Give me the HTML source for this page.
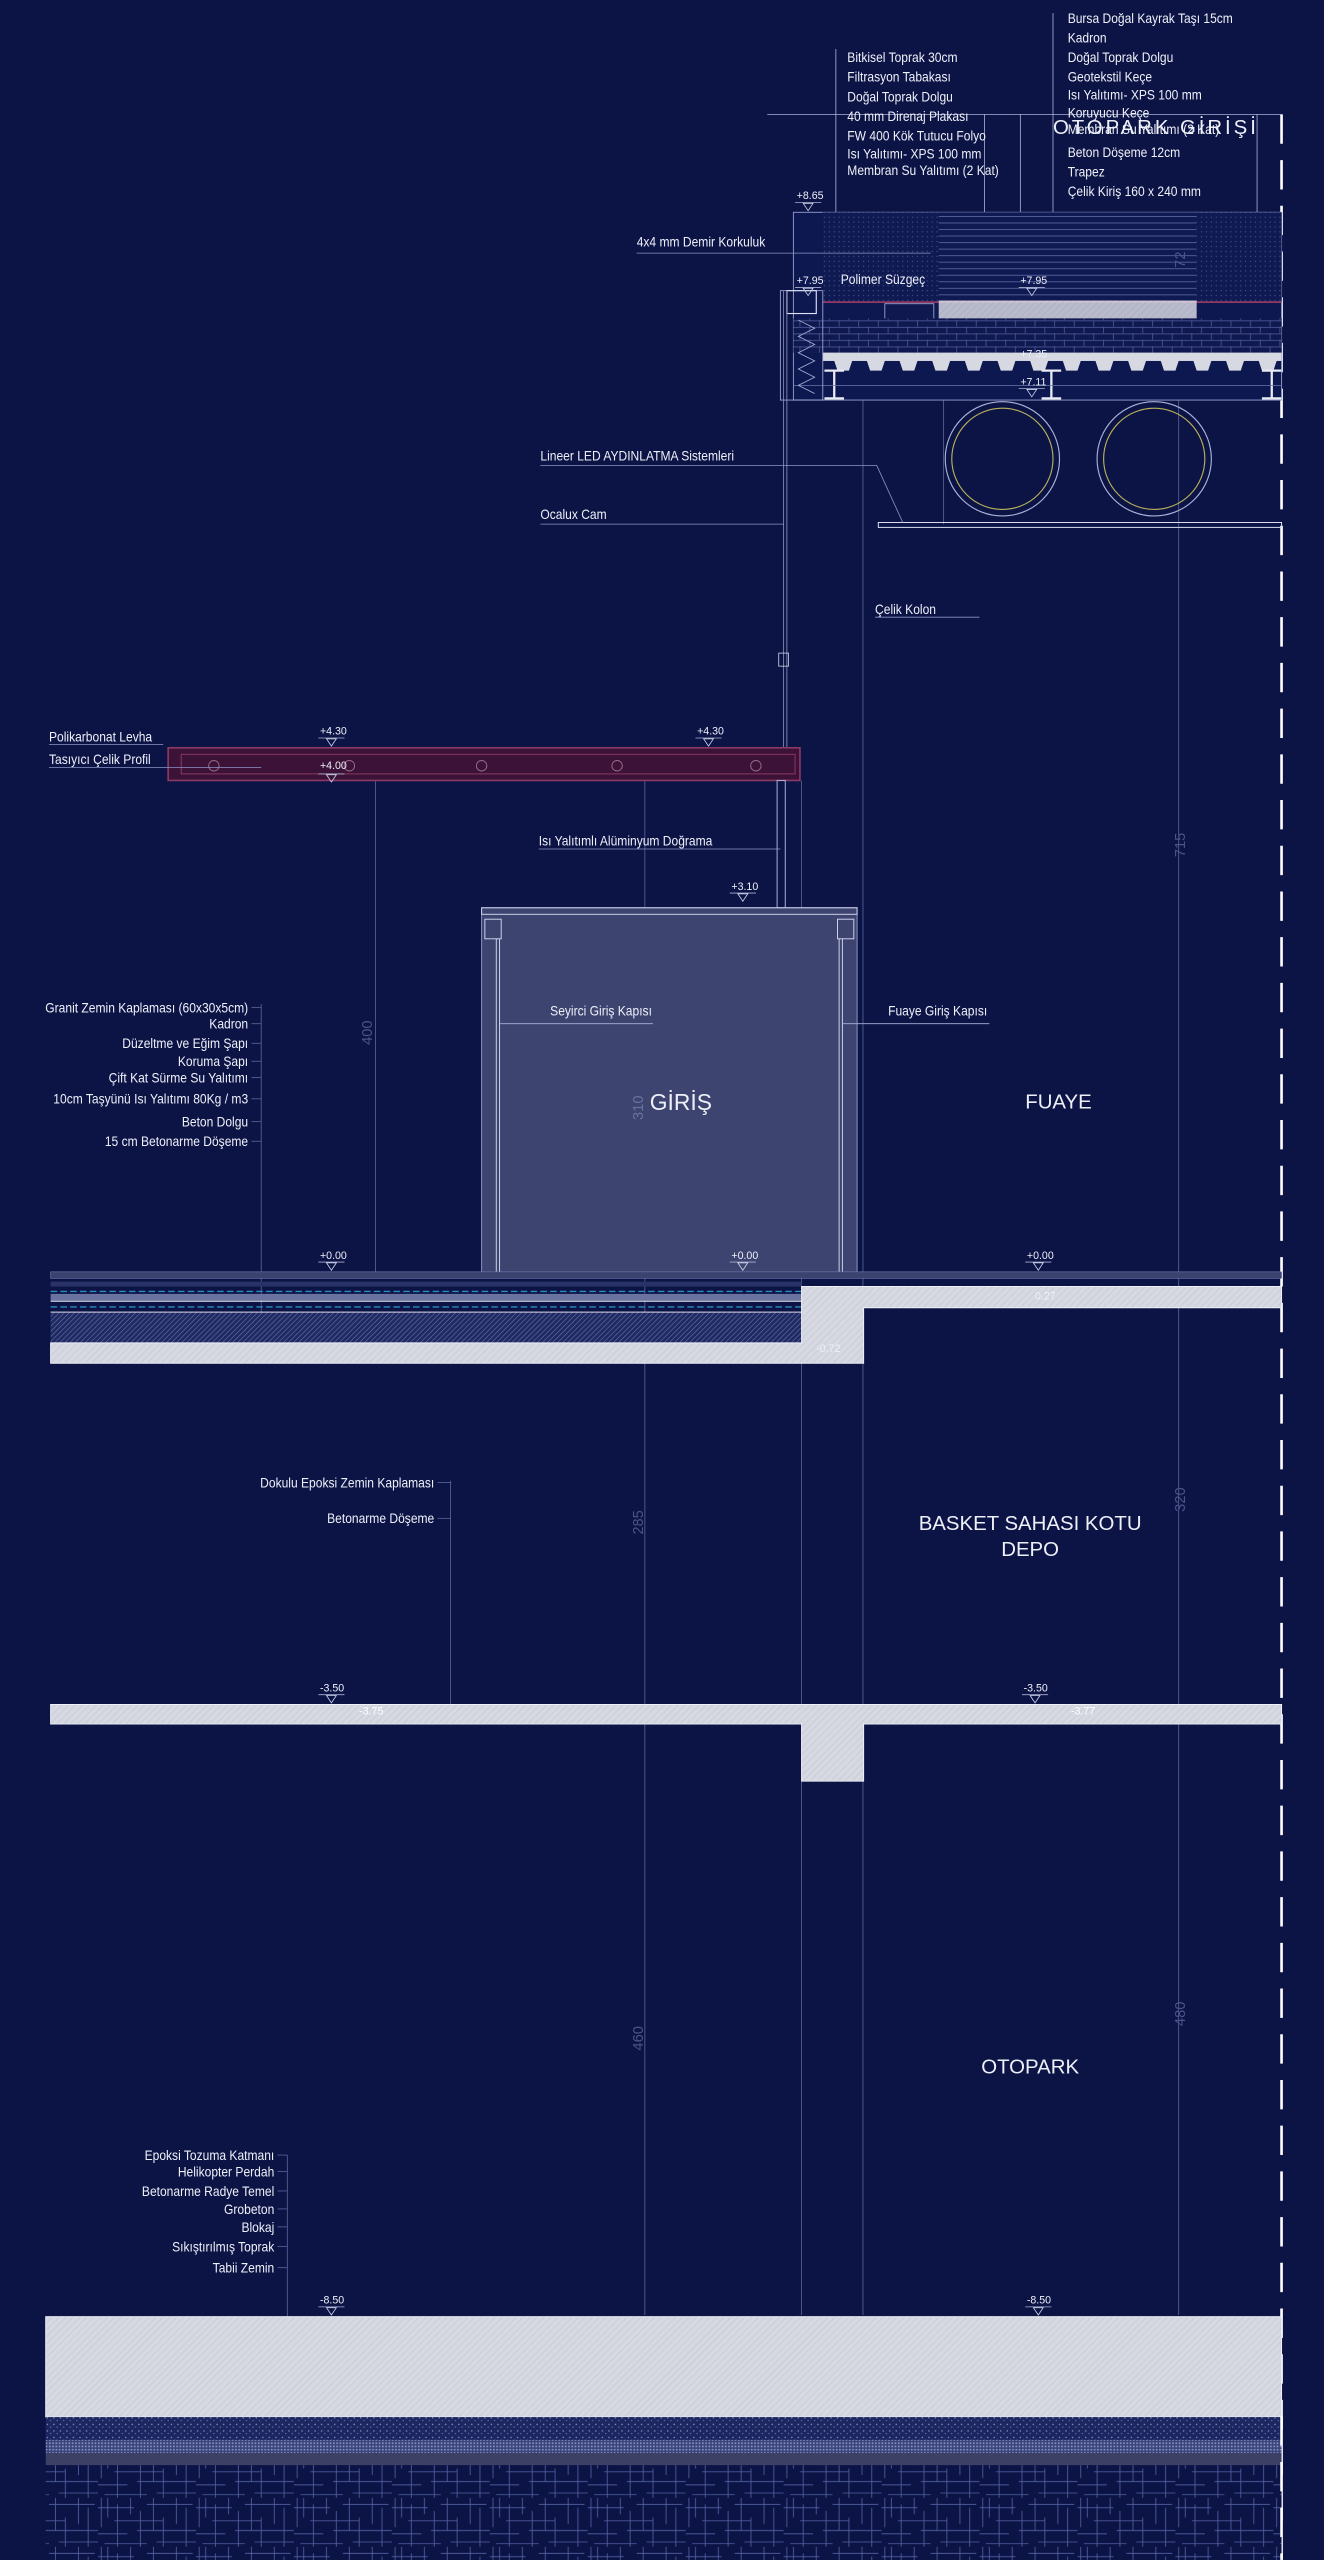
<!DOCTYPE html>
<html><head><meta charset="utf-8"><style>
html,body{margin:0;padding:0;background:#0c1446;}
svg{display:block}
text{font-family:"Liberation Sans Narrow","Liberation Sans",sans-serif;fill:#eef0f8;}
</style></head><body>
<svg width="1324" height="2560" viewBox="0 0 811 1568" xmlns="http://www.w3.org/2000/svg">
<defs>
<pattern id="hatch" width="3" height="3" patternUnits="userSpaceOnUse" patternTransform="rotate(45)"><rect width="3" height="3" fill="#d6d8e2"/><line x1="0" y1="0" x2="0" y2="3" stroke="#c4c7d4" stroke-width="0.8"/></pattern>
<pattern id="dhatch" width="2.2" height="2.2" patternUnits="userSpaceOnUse" patternTransform="rotate(45)"><rect width="2.2" height="2.2" fill="#1f2a63"/><line x1="0" y1="0" x2="0" y2="2.2" stroke="#6a74a8" stroke-width="0.7"/></pattern>
<pattern id="dots" width="3" height="3" patternUnits="userSpaceOnUse"><rect width="3" height="3" fill="#101a52"/><circle cx="1" cy="1" r="0.35" fill="#5d68a0"/></pattern>
<pattern id="speck" width="4" height="4" patternUnits="userSpaceOnUse"><rect width="4" height="4" fill="#1c2660"/><circle cx="1" cy="1" r="0.5" fill="#7d86b6"/><circle cx="3" cy="2.6" r="0.45" fill="#5e68a0"/></pattern>
<pattern id="xh" width="2" height="2" patternUnits="userSpaceOnUse"><rect width="2" height="2" fill="#3a447c"/><rect width="1" height="1" fill="#8c94c0"/></pattern>
<pattern id="hlines" width="10" height="4" patternUnits="userSpaceOnUse"><rect width="10" height="4" fill="#101a52"/><line x1="0" y1="0.5" x2="10" y2="0.5" stroke="#5c68a4" stroke-width="0.5"/></pattern>
<pattern id="brick" width="24" height="8" patternUnits="userSpaceOnUse"><rect width="24" height="8" fill="#0f1950"/><path d="M0 0.5H24M0 4.5H24M4 0V4M16 0V4M10 4V8M22 4V8" stroke="#4c5896" stroke-width="0.5" fill="none"/></pattern>
<pattern id="ground" width="60" height="30" patternUnits="userSpaceOnUse"><rect width="60" height="30" fill="#0c1446"/><path d="M2 0V18M6 0V12M12 4V30M20 0V10M26 8V30M34 0V20M40 12V30M48 0V16M54 6V30M0 6H22M10 14H40M30 4H58M0 22H18M24 20H60M36 27H60M4 28H30" stroke="#5361a3" stroke-width="0.5" fill="none"/></pattern>
<g id="lv"><line x1="-8" y1="0" x2="8" y2="0" stroke="#aab0d0" stroke-width="0.5"/><path d="M-3 0.5 L3 0.5 L0 5 Z" fill="none" stroke="#cfd3ea" stroke-width="0.5"/></g>
</defs>
<rect width="811" height="1568" fill="#0c1446"/>

<g stroke="#5a6596" stroke-width="0.5" fill="none">
<line x1="395" y1="478" x2="395" y2="1418"/>
<line x1="491" y1="478" x2="491" y2="1418"/>
<line x1="528.6" y1="243" x2="528.6" y2="1418"/>
<line x1="722" y1="130" x2="722" y2="1418"/>
<line x1="230" y1="478" x2="230" y2="780"/>
<line x1="578" y1="243" x2="578" y2="321"/>
<line x1="160" y1="615" x2="160" y2="834"/>
<line x1="276" y1="907" x2="276" y2="1044"/>
<line x1="176" y1="1320" x2="176" y2="1568"/>
</g>

<line x1="785" y1="70" x2="785" y2="1568" stroke="#fff" stroke-width="1.6" stroke-dasharray="18 10"/>

<g stroke="#aab2d8" stroke-width="0.5" fill="none">
<line x1="470" y1="70" x2="785" y2="70"/>
<line x1="603" y1="70" x2="603" y2="130"/>
<line x1="625" y1="70" x2="625" y2="130"/>
<line x1="770" y1="70" x2="770" y2="130"/>
<line x1="512" y1="30" x2="512" y2="130"/>
<line x1="645" y1="8" x2="645" y2="130"/>
</g>
<rect x="486" y="130" width="299" height="115" fill="#0e1850" stroke="#8c95c4" stroke-width="0.6"/>
<rect x="504" y="130" width="71" height="55" fill="url(#dots)"/>
<rect x="733" y="130" width="52" height="55" fill="url(#dots)"/>
<rect x="575" y="130" width="158" height="55" fill="url(#hlines)"/>
<line x1="504" y1="185" x2="785" y2="185" stroke="#c8446c" stroke-width="0.8"/>
<rect x="575" y="184" width="158" height="11" fill="url(#hatch)" opacity="0.85"/>
<rect x="542" y="186" width="30" height="10" fill="#0f1950" stroke="#aab2d8" stroke-width="0.5"/>
<rect x="486" y="195" width="299" height="21" fill="url(#brick)"/>
<rect x="504" y="216" width="281" height="5" fill="#d6d8e2"/>
<path d="M504 221 L511 221 L513 227 L520 227 L522 221 L531 221 L533 227 L540 227 L542 221 L551 221 L553 227 L560 227 L562 221 L571 221 L573 227 L580 227 L582 221 L591 221 L593 227 L600 227 L602 221 L611 221 L613 227 L620 227 L622 221 L631 221 L633 227 L640 227 L642 221 L651 221 L653 227 L660 227 L662 221 L671 221 L673 227 L680 227 L682 221 L691 221 L693 227 L700 227 L702 221 L711 221 L713 227 L720 227 L722 221 L731 221 L733 227 L740 227 L742 221 L751 221 L753 227 L760 227 L762 221 L771 221 L773 227 L780 227 L782 221 L785 221 L785 216 L504 216 Z" fill="#d6d8e2"/>
<g fill="none" stroke="#e8eaf4" stroke-width="1.4">
<path d="M505 227H517M511 227V244M505 244H517"/>
<path d="M638 227H650M644 227V244M638 244H650"/>
<path d="M773 227H785M779 227V244M773 244H785"/>
</g>
<line x1="486" y1="236" x2="785" y2="236" stroke="#6a75aa" stroke-width="0.5"/>
<rect x="478" y="178" width="26" height="67" fill="none" stroke="#aab2d8" stroke-width="0.5"/>
<path d="M489 196 l10 5 l-10 5 l10 5 l-10 5 l10 5 l-10 5 l10 5 l-10 5 l10 5" fill="none" stroke="#aab2d8" stroke-width="0.5"/>
<rect x="482" y="178" width="18" height="14" fill="none" stroke="#dfe2f2" stroke-width="0.7"/>
<circle cx="614" cy="281" r="35" fill="none" stroke="#aab2d8" stroke-width="0.7"/>
<circle cx="614" cy="281" r="31" fill="none" stroke="#b8b25a" stroke-width="0.7"/>
<circle cx="707" cy="281" r="35" fill="none" stroke="#aab2d8" stroke-width="0.7"/>
<circle cx="707" cy="281" r="31" fill="none" stroke="#b8b25a" stroke-width="0.7"/>
<rect x="538" y="320" width="247" height="3" fill="none" stroke="#dfe2f2" stroke-width="0.6"/>
<g stroke="#8c95c4" stroke-width="0.5" fill="none">
<line x1="331" y1="285" x2="537" y2="285"/><line x1="537" y1="285" x2="553" y2="320"/>
<line x1="331" y1="321" x2="480" y2="321"/>
<line x1="390" y1="155" x2="570" y2="155"/>
<line x1="536" y1="378" x2="600" y2="378"/>
<line x1="480" y1="178" x2="480" y2="458"/><line x1="482" y1="178" x2="482" y2="458"/>
<line x1="330" y1="520" x2="478" y2="520"/>
</g>
<rect x="477" y="400" width="6" height="8" fill="none" stroke="#cfd3ea" stroke-width="0.5"/>

<g font-size="8.3">
<g transform="translate(519,0) scale(0.89,1)">
<text x="0" y="38">Bitkisel Toprak 30cm</text>
<text x="0" y="50">Filtrasyon Tabakası</text>
<text x="0" y="62">Doğal Toprak Dolgu</text>
<text x="0" y="74">40 mm Direnaj Plakası</text>
<text x="0" y="86">FW 400 Kök Tutucu Folyo</text>
<text x="0" y="97">Isı Yalıtımı- XPS 100 mm</text>
<text x="0" y="107">Membran Su Yalıtımı (2 Kat)</text>
</g>
<g transform="translate(654,0) scale(0.89,1)">
<text x="0" y="14">Bursa Doğal Kayrak Taşı 15cm</text>
<text x="0" y="26">Kadron</text>
<text x="0" y="38">Doğal Toprak Dolgu</text>
<text x="0" y="50">Geotekstil Keçe</text>
<text x="0" y="61">Isı Yalıtımı- XPS 100 mm</text>
<text x="0" y="72">Koruyucu Keçe</text>
<text x="0" y="82">Membran Su Yalıtımı (2 Kat)</text>
<text x="0" y="96">Beton Döşeme  12cm</text>
<text x="0" y="108">Trapez</text>
<text x="0" y="120">Çelik Kiriş 160 x 240 mm</text>
</g>
<text transform="translate(390,151) scale(0.89,1)">4x4 mm Demir Korkuluk</text>
<text transform="translate(515,174) scale(0.89,1)">Polimer Süzgeç</text>
<text transform="translate(331,282) scale(0.89,1)">Lineer LED AYDINLATMA Sistemleri</text>
<text transform="translate(331,318) scale(0.89,1)">Ocalux Cam</text>
<text transform="translate(536,376) scale(0.89,1)">Çelik Kolon</text>
</g>
<text x="645" y="82" font-size="12.5" letter-spacing="1.8" style="font-family:'Liberation Sans',sans-serif">OTOPARK GİRİŞİ</text>

<g font-size="6.5">
<use href="#lv" x="495" y="124"/><text x="488" y="122">+8.65</text>
<use href="#lv" x="495" y="176"/><text x="488" y="174">+7.95</text>
<use href="#lv" x="632" y="176"/><text x="625" y="174">+7.95</text>
<text x="625" y="219">+7.35</text>
<use href="#lv" x="632" y="238"/><text x="625" y="236">+7.11</text>
</g>

<rect x="103" y="458" width="387" height="20" fill="#3c1238" stroke="#8a3a62" stroke-width="1"/>
<rect x="111" y="462" width="376" height="12" fill="none" stroke="#8a3a62" stroke-width="0.6"/>
<g fill="none" stroke="#9a6a88" stroke-width="0.6">
<circle cx="131" cy="469" r="3.2"/><circle cx="214" cy="469" r="3.2"/><circle cx="295" cy="469" r="3.2"/><circle cx="378" cy="469" r="3.2"/><circle cx="463" cy="469" r="3.2"/>
</g>
<rect x="476" y="478" width="5" height="78" fill="none" stroke="#aab2d8" stroke-width="0.6"/>
<g stroke="#8c95c4" stroke-width="0.5"><line x1="30" y1="456" x2="100" y2="456"/><line x1="30" y1="470" x2="160" y2="470"/></g>
<g font-size="8.3">
<text transform="translate(30,454) scale(0.89,1)">Polikarbonat Levha</text>
<text transform="translate(30,468) scale(0.89,1)">Tasıyıcı Çelik Profil</text>
<text transform="translate(330,518) scale(0.89,1)">Isı Yalıtımlı Alüminyum Doğrama</text>
</g>
<g font-size="6.5">
<use href="#lv" x="203" y="452"/><text x="196" y="450">+4.30</text>
<use href="#lv" x="434" y="452"/><text x="427" y="450">+4.30</text>
<use href="#lv" x="203" y="474" /><text x="196" y="471">+4.00</text>
<use href="#lv" x="455" y="547"/><text x="448" y="545">+3.10</text>
</g>

<rect x="295" y="556" width="230" height="224" fill="#3d4470" stroke="#8c95c4" stroke-width="0.6"/>
<rect x="295" y="556" width="230" height="4" fill="none" stroke="#cfd3ea" stroke-width="0.6"/>
<g stroke="#cfd3ea" stroke-width="0.6" fill="none">
<rect x="297" y="563" width="10" height="12"/><rect x="513" y="563" width="10" height="12"/>
<line x1="304" y1="575" x2="304" y2="780"/><line x1="306" y1="575" x2="306" y2="780"/>
<line x1="514" y1="575" x2="514" y2="780"/><line x1="516" y1="575" x2="516" y2="780"/>
</g>
<g stroke="#aab2d8" stroke-width="0.5"><line x1="306" y1="627" x2="400" y2="627"/><line x1="516" y1="627" x2="606" y2="627"/></g>
<g font-size="8.3">
<text transform="translate(337,622) scale(0.89,1)">Seyirci Giriş Kapısı</text>
<text transform="translate(544,622) scale(0.89,1)">Fuaye Giriş Kapısı</text>
</g>
<text x="398" y="680" font-size="14" style="font-family:'Liberation Sans',sans-serif">GİRİŞ</text>
<text x="628" y="679" font-size="12.5" style="font-family:'Liberation Sans',sans-serif">FUAYE</text>
<g font-size="9" style="font-family:'Liberation Sans',sans-serif">
<text transform="translate(394,686) rotate(-90)" style="fill:#6a72a0">310</text>
<text transform="translate(228,640) rotate(-90)" style="fill:#4a5488">400</text>
<text transform="translate(726,525) rotate(-90)" style="fill:#4a5488">715</text>
<text transform="translate(726,926) rotate(-90)" style="fill:#4a5488">320</text>
<text transform="translate(394,940) rotate(-90)" style="fill:#4a5488">285</text>
<text transform="translate(394,1256) rotate(-90)" style="fill:#4a5488">460</text>
<text transform="translate(726,1241) rotate(-90)" style="fill:#4a5488">480</text>
<text transform="translate(726,164) rotate(-90)" style="fill:#4a5488">72</text>
</g>

<g font-size="8.3" text-anchor="end" transform="translate(152,0) scale(0.89,1)">
<text x="0" y="620">Granit Zemin Kaplaması (60x30x5cm)</text>
<text x="0" y="630">Kadron</text>
<text x="0" y="642">Düzeltme ve Eğim Şapı</text>
<text x="0" y="653">Koruma Şapı</text>
<text x="0" y="663">Çift Kat Sürme Su Yalıtımı</text>
<text x="0" y="676">10cm Taşyünü Isı Yalıtımı 80Kg / m3</text>
<text x="0" y="690">Beton Dolgu</text>
<text x="0" y="702">15 cm Betonarme Döşeme</text>
</g>
<g stroke="#5a6596" stroke-width="0.5">
<line x1="154" y1="617" x2="160" y2="617"/><line x1="154" y1="627" x2="160" y2="627"/><line x1="154" y1="639" x2="160" y2="639"/><line x1="154" y1="650" x2="160" y2="650"/><line x1="154" y1="660" x2="160" y2="660"/><line x1="154" y1="673" x2="160" y2="673"/><line x1="154" y1="687" x2="160" y2="687"/><line x1="154" y1="699" x2="160" y2="699"/>
</g>

<rect x="31" y="779" width="754" height="4" fill="#3a4270" stroke="#6a75aa" stroke-width="0.4"/>
<rect x="31" y="785" width="460" height="3" fill="#2a3368"/>
<line x1="31" y1="791" x2="491" y2="791" stroke="#2a8cc0" stroke-width="0.8" stroke-dasharray="4 2"/>
<rect x="31" y="792.5" width="460" height="4" fill="#6a72a0"/>
<line x1="31" y1="797" x2="491" y2="797" stroke="#e8eaf4" stroke-width="0.7"/>
<line x1="31" y1="800.5" x2="491" y2="800.5" stroke="#2a8cc0" stroke-width="0.8" stroke-dasharray="4 2"/>
<line x1="31" y1="803.7" x2="491" y2="803.7" stroke="#e8eaf4" stroke-width="0.7"/>
<rect x="31" y="804" width="460" height="18.5" fill="url(#dhatch)"/>
<path d="M31 822.5 H491 V788 H785 V801 H529 V835 H31 Z" fill="url(#hatch)" stroke="#eef0f8" stroke-width="0.6"/>
<g font-size="6.5">
<use href="#lv" x="203" y="773"/><text x="196" y="771">+0.00</text>
<use href="#lv" x="455" y="773"/><text x="448" y="771">+0.00</text>
<use href="#lv" x="636" y="773"/><text x="629" y="771">+0.00</text>
<text x="500" y="828">-0.72</text>
<text x="634" y="796">0.27</text>
</g>

<g font-size="8.3" text-anchor="end" transform="translate(266,0) scale(0.89,1)">
<text x="0" y="911">Dokulu Epoksi Zemin Kaplaması</text>
<text x="0" y="933">Betonarme Döşeme</text>
</g>
<g stroke="#5a6596" stroke-width="0.5"><line x1="268" y1="908" x2="276" y2="908"/><line x1="268" y1="930" x2="276" y2="930"/></g>
<text x="631" y="937" font-size="12.5" text-anchor="middle" style="font-family:'Liberation Sans',sans-serif">BASKET SAHASI KOTU</text>
<text x="631" y="953" font-size="12.5" text-anchor="middle" style="font-family:'Liberation Sans',sans-serif">DEPO</text>
<path d="M31 1044 H785 V1056 H529 V1091 H491 V1056 H31 Z" fill="url(#hatch)" stroke="#eef0f8" stroke-width="0.6"/>
<g font-size="6.5">
<use href="#lv" x="203" y="1038"/><text x="196" y="1036">-3.50</text>
<use href="#lv" x="634" y="1038"/><text x="627" y="1036">-3.50</text>
<text x="220" y="1050" style="fill:#fff">-3.75</text>
<text x="656" y="1050" style="fill:#fff">-3.77</text>
</g>
<text x="631" y="1270" font-size="12.5" text-anchor="middle" style="font-family:'Liberation Sans',sans-serif">OTOPARK</text>

<g font-size="8.3" text-anchor="end" transform="translate(168,0) scale(0.89,1)">
<text x="0" y="1323">Epoksi Tozuma Katmanı</text>
<text x="0" y="1333">Helikopter Perdah</text>
<text x="0" y="1345">Betonarme Radye Temel</text>
<text x="0" y="1356">Grobeton</text>
<text x="0" y="1367">Blokaj</text>
<text x="0" y="1379">Sıkıştırılmış Toprak</text>
<text x="0" y="1392">Tabii Zemin</text>
</g>
<g stroke="#5a6596" stroke-width="0.5">
<line x1="170" y1="1320" x2="176" y2="1320"/><line x1="170" y1="1330" x2="176" y2="1330"/><line x1="170" y1="1342" x2="176" y2="1342"/><line x1="170" y1="1353" x2="176" y2="1353"/><line x1="170" y1="1364" x2="176" y2="1364"/><line x1="170" y1="1376" x2="176" y2="1376"/><line x1="170" y1="1389" x2="176" y2="1389"/>
</g>
<g font-size="6.5">
<use href="#lv" x="203" y="1413"/><text x="196" y="1411">-8.50</text>
<use href="#lv" x="636" y="1413"/><text x="629" y="1411">-8.50</text>
</g>
<rect x="28" y="1419" width="757" height="61.5" fill="url(#hatch)" stroke="#eef0f8" stroke-width="0.6"/>
<rect x="28" y="1480.5" width="757" height="14" fill="url(#speck)"/>
<rect x="28" y="1494.5" width="757" height="8" fill="url(#xh)"/>
<rect x="28" y="1502.5" width="757" height="7.5" fill="#3c4064"/>
<rect x="28" y="1510" width="757" height="58" fill="url(#ground)"/>
<line x1="785" y1="1480" x2="785" y2="1568" stroke="#fff" stroke-width="1.6" stroke-dasharray="18 10"/>
</svg>
</body></html>
